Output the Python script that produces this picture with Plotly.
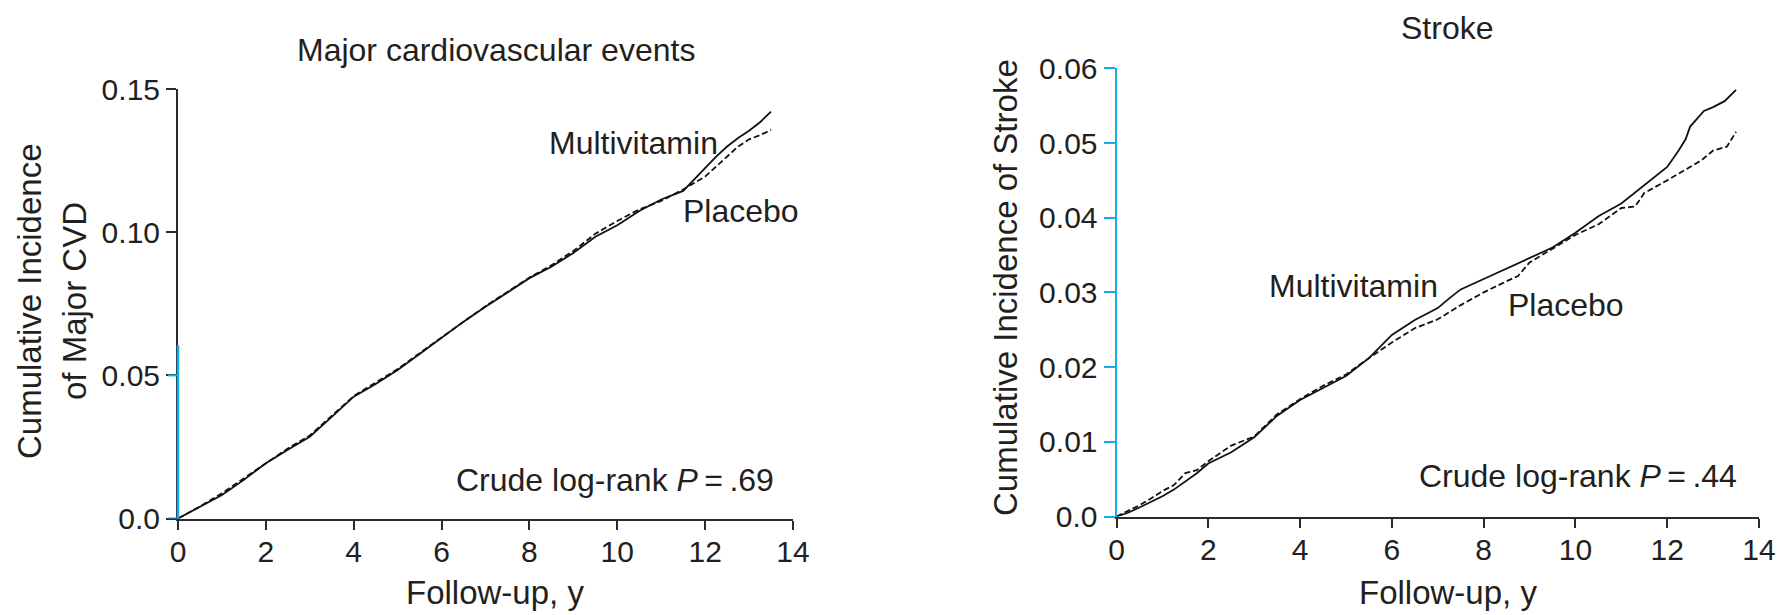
import plotly.graph_objects as go

# ---------------- data ----------------
cvd_t_mv = [0, 0.5, 1.0, 1.5, 2.0, 2.5, 3.0, 3.5, 4.0, 4.5, 5.0, 5.5, 6.0, 6.5, 7.0, 7.5,
            8.0, 8.5, 9.0, 9.5, 10.0, 10.5, 11.0, 11.5, 12.0, 12.25, 12.5, 12.75, 13.0, 13.25, 13.5]
cvd_mv = [0, 0.0040, 0.0082, 0.0135, 0.0193, 0.0240, 0.0286, 0.0355, 0.0426, 0.0470, 0.0519,
          0.0575, 0.0632, 0.0688, 0.0740, 0.0790, 0.0840, 0.0880, 0.0928, 0.0985, 0.1025,
          0.1075, 0.1115, 0.1145, 0.1225, 0.1265, 0.1300, 0.1330, 0.1355, 0.1385, 0.1422]
cvd_t_pl = [0, 0.5, 1.0, 1.5, 2.0, 2.5, 3.0, 3.5, 4.0, 4.5, 5.0, 5.5, 6.0, 6.5, 7.0, 7.5,
            8.0, 8.5, 9.0, 9.5, 10.0, 10.5, 11.0, 11.5, 12.0, 12.25, 12.5, 12.75, 13.0, 13.25, 13.5]
cvd_pl = [0, 0.0042, 0.0088, 0.0140, 0.0195, 0.0245, 0.0290, 0.0360, 0.0428, 0.0475, 0.0522,
          0.0578, 0.0633, 0.0690, 0.0742, 0.0792, 0.0842, 0.0885, 0.0935, 0.0995, 0.1040,
          0.1080, 0.1110, 0.1150, 0.1195, 0.1230, 0.1265, 0.1300, 0.1325, 0.1340, 0.1358]

stroke_t_mv = [0, 0.25, 0.5, 0.75, 1.0, 1.25, 1.5, 1.75, 2.0, 2.5, 3.0, 3.5, 4.0, 4.5, 5.0,
               5.5, 6.0, 6.5, 7.0, 7.25, 7.5, 8.0, 8.5, 9.0, 9.5, 10.0, 10.5, 11.0, 11.5,
               12.0, 12.25, 12.4, 12.5, 12.8, 13.0, 13.25, 13.5]
stroke_mv = [0, 0.0005, 0.0012, 0.0019, 0.0027, 0.0036, 0.0047, 0.0058, 0.0071, 0.0086,
             0.0106, 0.0135, 0.0156, 0.0172, 0.0188, 0.0212, 0.0243, 0.0263, 0.0279, 0.0292,
             0.0304, 0.0318, 0.0332, 0.0345, 0.0360, 0.0380, 0.0402, 0.0419, 0.0443, 0.0468,
             0.0490, 0.0505, 0.0522, 0.0543, 0.0548, 0.0556, 0.0571]
stroke_t_pl = [0, 0.25, 0.5, 0.75, 1.0, 1.25, 1.5, 1.75, 2.0, 2.5, 3.0, 3.5, 4.0, 4.5, 5.0,
               5.5, 6.0, 6.5, 7.0, 7.5, 8.0, 8.5, 8.75, 9.0, 9.5, 10.0, 10.5, 11.0, 11.3,
               11.5, 12.0, 12.25, 12.75, 13.0, 13.3, 13.5]
stroke_pl = [0, 0.0007, 0.0015, 0.0024, 0.0034, 0.0042, 0.0058, 0.0062, 0.0074, 0.0095,
             0.0107, 0.0137, 0.0157, 0.0175, 0.0190, 0.0212, 0.0233, 0.0252, 0.0264, 0.0283,
             0.0300, 0.0315, 0.0322, 0.0340, 0.0358, 0.0377, 0.0391, 0.0413, 0.0415, 0.0433,
             0.0450, 0.0459, 0.0477, 0.0490, 0.0495, 0.0515]

x_ticks = [0, 2, 4, 6, 8, 10, 12, 14]
x_ticktext = ["0", "2", "4", "6", "8", "10", "12", "14"]
cvd_yticks = [0, 0.05, 0.10, 0.15]
cvd_yticktext = ["0.0", "0.05", "0.10", "0.15"]
stroke_yticks = [0, 0.01, 0.02, 0.03, 0.04, 0.05, 0.06]
stroke_yticktext = ["0.0", "0.01", "0.02", "0.03", "0.04", "0.05", "0.06"]
cvd_blue_top = 0.0606   # blue part of the left y axis
p_cvd = ".69"
p_stroke = ".44"

# ---------------- styling ----------------
W, H = 1792, 615
FONT = "Liberation Sans, Arial, Helvetica, sans-serif"
TXT = "#231F20"
AX = "#2B2B2B"
BLUE = "#12AEEA"
TICKF = 30
TITLEF = 32
AXTF = 33


def px(xp):
    return xp / W


def py(yp):
    return 1 - yp / H


fig = go.Figure()
line_solid = dict(color="#111111", width=1.8)
line_dash = dict(color="#111111", width=1.8, dash="6px,3px")

fig.add_trace(go.Scatter(x=cvd_t_pl, y=cvd_pl, mode="lines", line=line_dash,
                         xaxis="x", yaxis="y", showlegend=False))
fig.add_trace(go.Scatter(x=cvd_t_mv, y=cvd_mv, mode="lines", line=line_solid,
                         xaxis="x", yaxis="y", showlegend=False))
fig.add_trace(go.Scatter(x=stroke_t_pl, y=stroke_pl, mode="lines", line=line_dash,
                         xaxis="x2", yaxis="y2", showlegend=False))
fig.add_trace(go.Scatter(x=stroke_t_mv, y=stroke_mv, mode="lines", line=line_solid,
                         xaxis="x2", yaxis="y2", showlegend=False))

common_x = dict(range=[0, 14], tickvals=x_ticks, ticktext=x_ticktext, showline=True,
                linecolor=AX, linewidth=2, ticks="outside", ticklen=9, tickwidth=2,
                tickcolor=AX, showgrid=False, zeroline=False, automargin=False,
                ticklabelstandoff=-4,
                tickfont=dict(family=FONT, size=TICKF, color=TXT))

fig.update_layout(
    width=W, height=H,
    margin=dict(l=0, r=0, t=0, b=0),
    paper_bgcolor="white", plot_bgcolor="white",
    font=dict(family=FONT, color=TXT),
    xaxis=dict(domain=[px(178), px(793)], anchor="y", **common_x),
    yaxis=dict(domain=[py(518.5), py(89.3)], anchor="x", range=[0, 0.15],
               tickvals=cvd_yticks, ticktext=cvd_yticktext, showline=True,
               linecolor=AX, linewidth=2, ticks="outside", ticklen=10, tickwidth=2,
               tickcolor=AX, showgrid=False, zeroline=False, automargin=False,
               tickfont=dict(family=FONT, size=TICKF, color=TXT)),
    xaxis2=dict(domain=[px(1116.5), px(1759)], anchor="y2", **common_x),
    yaxis2=dict(domain=[py(516.5), py(68.3)], anchor="x2", range=[0, 0.06],
                tickvals=stroke_yticks, ticktext=stroke_yticktext, showline=True,
                linecolor=BLUE, linewidth=2, ticks="outside", ticklen=11, tickwidth=2,
                tickcolor=BLUE, showgrid=False, zeroline=False, automargin=False,
                tickfont=dict(family=FONT, size=TICKF, color=TXT)),
)

# blue lower part of the left y axis and its ticks
fig.add_shape(type="line", xref="x domain", yref="y", x0=0, x1=0, y0=0, y1=cvd_blue_top,
              line=dict(color=BLUE, width=2.5))
for v in cvd_yticks[:2]:
    fig.add_shape(type="line", xref="x domain", yref="y", x0=-10 / 615, x1=0, y0=v, y1=v,
                  line=dict(color=BLUE, width=2))

ann = []


def text(x, y, s, size, xanchor="center", yanchor="middle", angle=0, xref="paper", yref="paper"):
    ann.append(dict(x=x, y=y, xref=xref, yref=yref, text=s, showarrow=False,
                    xanchor=xanchor, yanchor=yanchor, textangle=angle,
                    font=dict(family=FONT, size=size, color=TXT)))


# panel titles
text(px(496), py(50), "Major cardiovascular events", TITLEF)
text(px(1447), py(28), "Stroke", TITLEF)
# axis titles
text(px(29), py(301), "Cumulative Incidence", AXTF, angle=-90)
text(px(74), py(301), "of Major CVD", AXTF, angle=-90)
text(px(1005), py(288), "Cumulative Incidence of Stroke", AXTF, angle=-90)
text(px(495), py(592), "Follow-up, y", AXTF)
text(px(1448), py(592), "Follow-up, y", AXTF)
# in-plot labels (data coordinates)
text(10.38, 0.1312, "Multivitamin", TITLEF, xref="x", yref="y")
text(12.82, 0.1073, "Placebo", TITLEF, xref="x", yref="y")
text(13.61, 0.0135, "Crude log-rank <i>P</i>\u2009=\u2009" + p_cvd, TITLEF, xanchor="right",
     xref="x", yref="y")
text(5.17, 0.0309, "Multivitamin", TITLEF, xref="x2", yref="y2")
text(9.79, 0.02825, "Placebo", TITLEF, xref="x2", yref="y2")
text(13.56, 0.00542, "Crude log-rank <i>P</i>\u2009=\u2009" + p_stroke, TITLEF, xanchor="right",
     xref="x2", yref="y2")

fig.update_layout(annotations=ann)
fig.write_html("out.html")
